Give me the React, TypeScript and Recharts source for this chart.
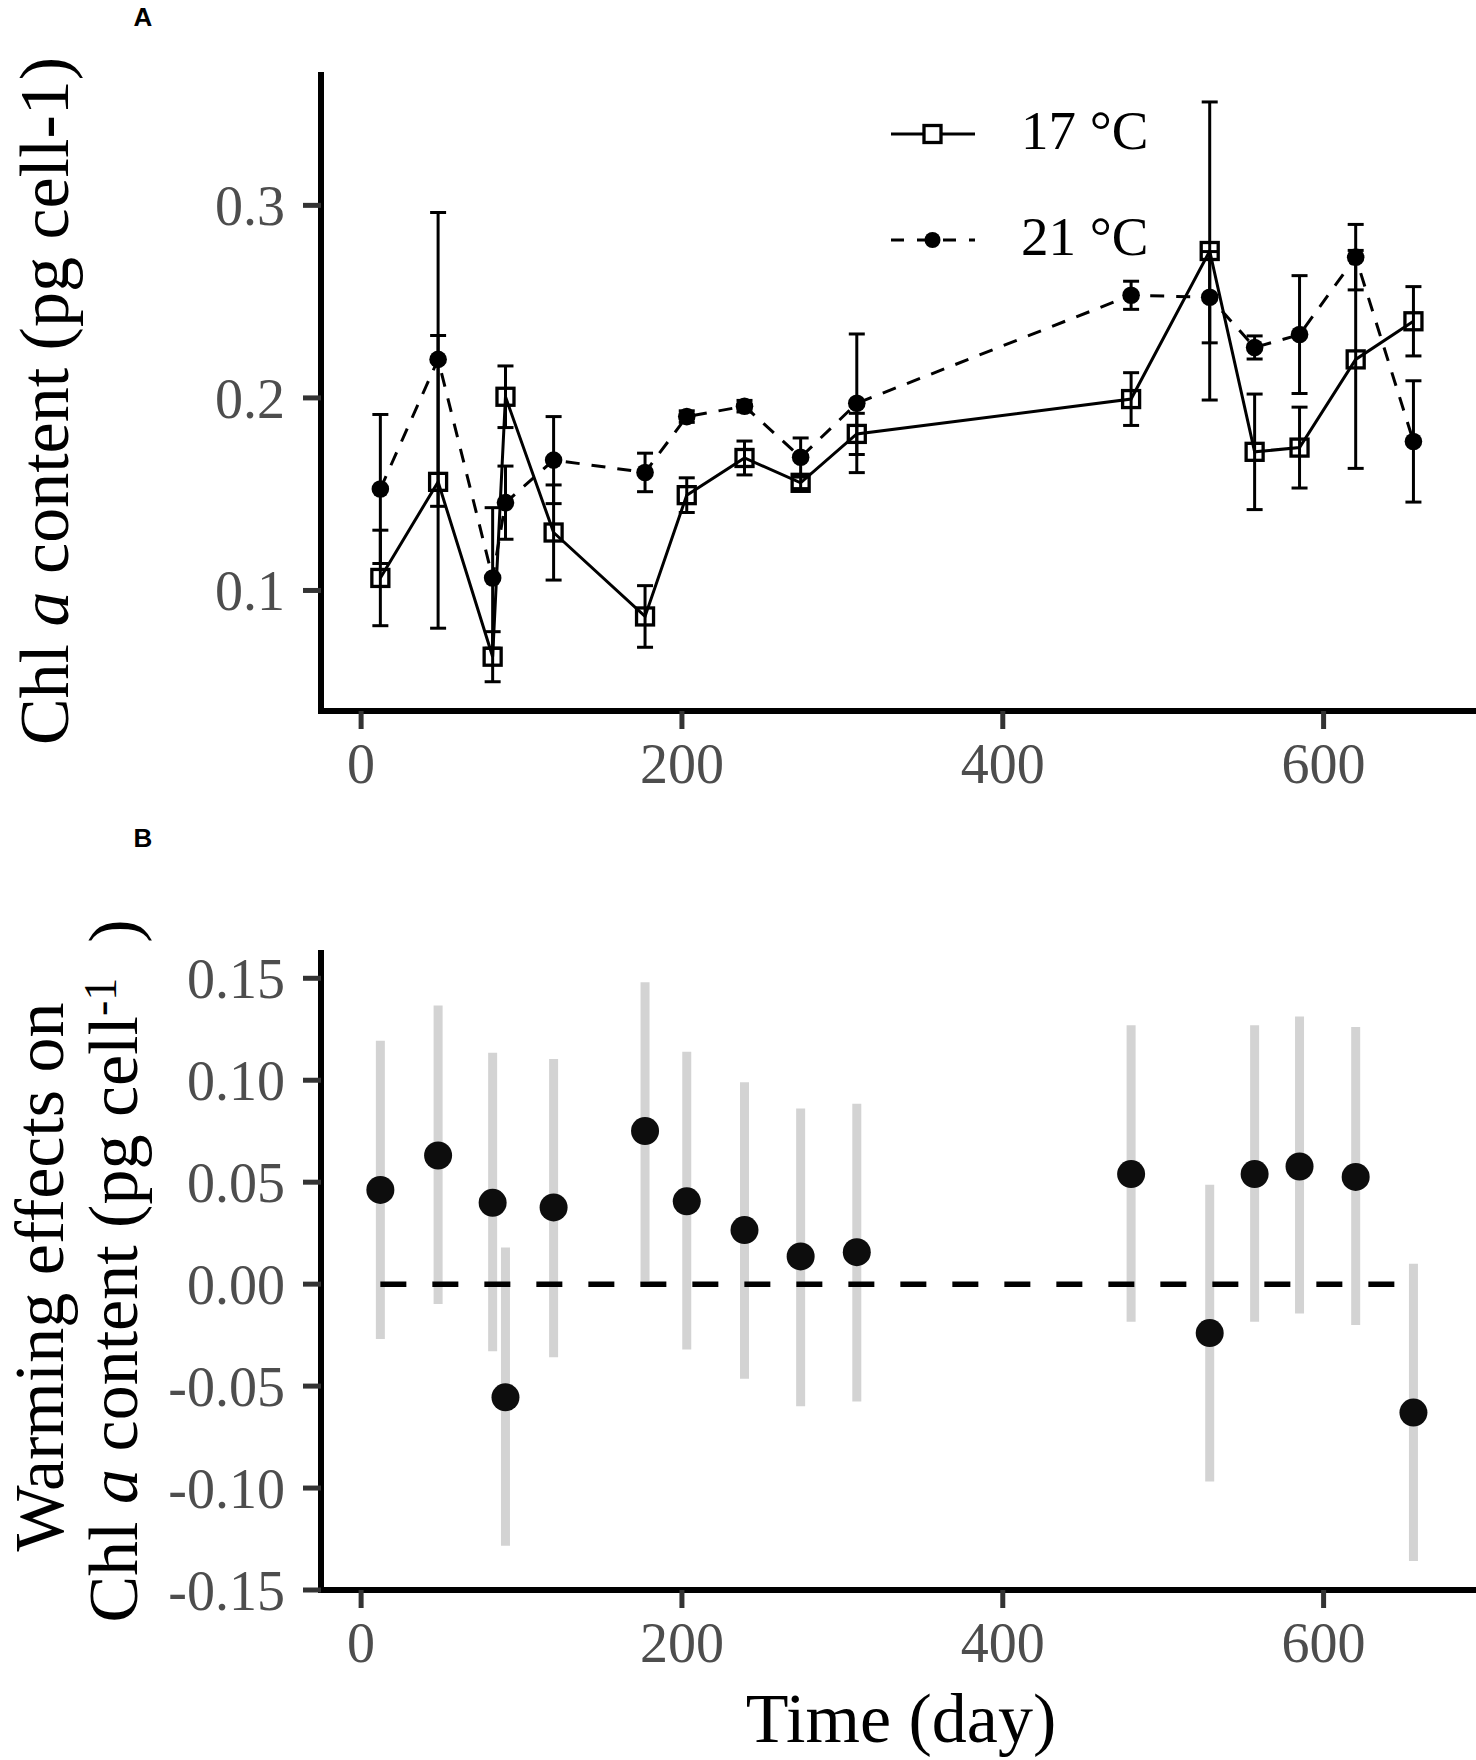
import React from "react";
import { ComposedChart, Line, XAxis, YAxis, ErrorBar, Legend } from "recharts";

// sampling days (same for both panels)
const DAYS = [12, 48, 82, 90, 120, 177, 203, 239, 274, 309, 480, 529, 557, 585, 620, 656];

// panel A: Chl a content, mean and error per temperature
const CHL_17 = [0.1065, 0.1564, 0.0656, 0.2006, 0.1301, 0.0865, 0.1495, 0.1688, 0.1559, 0.1813, 0.1994, 0.2763, 0.172, 0.1742, 0.22, 0.2398];
const ERR_17 = [0.0248, 0.076, 0.013, 0.016, 0.0247, 0.016, 0.009, 0.0088, 0.003, 0.0107, 0.0137, 0.0774, 0.03, 0.021, 0.0566, 0.018];
const CHL_21 = [0.1527, 0.22, 0.1065, 0.1456, 0.1677, 0.1613, 0.1903, 0.1957, 0.1692, 0.1972, 0.2533, 0.2523, 0.2262, 0.2329, 0.2731, 0.1774];
const ERR_21 = [0.0387, 0.0763, 0.0365, 0.019, 0.0226, 0.01, 0.003, 0.003, 0.01, 0.036, 0.0073, 0.0237, 0.006, 0.0306, 0.017, 0.0315];

// panel B: warming effect with lower / upper interval
const EFFECT = [0.0462, 0.0631, 0.0399, -0.0555, 0.0376, 0.0751, 0.0406, 0.0265, 0.0136, 0.0157, 0.054, -0.024, 0.054, 0.0577, 0.0526, -0.063];
const EFFECT_LO = [-0.0269, -0.0098, -0.0329, -0.1283, -0.0359, 0.0016, -0.032, -0.0464, -0.0599, -0.0575, -0.0185, -0.0968, -0.0185, -0.0144, -0.02, -0.1358];
const EFFECT_HI = [0.1194, 0.1366, 0.1135, 0.018, 0.1104, 0.148, 0.114, 0.099, 0.0861, 0.0885, 0.127, 0.0487, 0.127, 0.1312, 0.1261, 0.01];

const X_TICKS = [0, 200, 400, 600];
const Y_TICKS_A = [0.1, 0.2, 0.3];
const Y_TICKS_B = [-0.15, -0.1, -0.05, 0, 0.05, 0.1, 0.15];

const FONT = '"Liberation Serif", "Times New Roman", serif';
const SANS = '"Liberation Sans", Arial, sans-serif';

const rowsA = DAYS.map((day, i) => ({
  day,
  c17: CHL_17[i],
  e17: ERR_17[i],
  c21: CHL_21[i],
  e21: ERR_21[i],
}));

const rowsB = DAYS.map((day, i) => ({
  day,
  effect: EFFECT[i],
  ci: [EFFECT[i] - EFFECT_LO[i], EFFECT_HI[i] - EFFECT[i]],
  zero: 0,
}));

const SERIES_STYLE: Record<string, { dash?: string; marker: "square" | "dot" }> = {
  c17: { marker: "square" },
  c21: { dash: "13 13", marker: "dot" },
};

const tickStyle = { fill: "#4d4d4d", fontSize: 56, fontFamily: FONT };
const axisLineStyle = { stroke: "#000", strokeWidth: 6, strokeLinecap: "square" as const };
const tickLineStyle = { stroke: "#333", strokeWidth: 5 };

function squareDot(p: any) {
  if (p.cx == null || p.cy == null) return <g key={`sq-${p.index}`} />;
  return (
    <rect key={`sq-${p.index}`} x={p.cx - 8.5} y={p.cy - 8.5} width={17} height={17}
      fill="none" stroke="#000" strokeWidth={3.3} />
  );
}

function smallDot(p: any) {
  if (p.cx == null || p.cy == null) return <g key={`dt-${p.index}`} />;
  return <circle key={`dt-${p.index}`} cx={p.cx} cy={p.cy} r={8.8} fill="#000" />;
}

function bigDot(p: any) {
  if (p.cx == null || p.cy == null) return <g key={`bd-${p.index}`} />;
  return <circle key={`bd-${p.index}`} cx={p.cx} cy={p.cy} r={14} fill="#0d0d0d" />;
}

function LegendBox(props: any) {
  const payload = props.payload || [];
  return (
    <svg width={320} height={190}>
      {payload.map((entry: any, i: number) => {
        const s = SERIES_STYLE[entry.dataKey] || { marker: "dot" };
        const y = 49 + i * 106;
        return (
          <g key={String(entry.dataKey)}>
            <line x1={11} x2={95} y1={y} y2={y} stroke="#000" strokeWidth={3} strokeDasharray={s.dash} />
            {s.marker === "square" ? (
              <rect x={44} y={y - 8.5} width={17} height={17} fill="#fff" stroke="#000" strokeWidth={3.3} />
            ) : (
              <circle cx={52.5} cy={y} r={8} fill="#000" />
            )}
            <text x={141} y={y + 15} fontSize={55} fontFamily={FONT} fill="#000">
              {entry.value}
            </text>
          </g>
        );
      })}
    </svg>
  );
}

function TitleA() {
  return (
    <g>
      <text x={143} y={26} textAnchor="middle" fontFamily={SANS} fontWeight="bold" fontSize={26} fill="#000">A</text>
      <text x={68} y={401} transform="rotate(-90 68 401)" textAnchor="middle" fontFamily={FONT} fontSize={70} fill="#000">
        {"Chl "}
        <tspan fontStyle="italic">a</tspan>
        {" content (pg cell-1)"}
      </text>
    </g>
  );
}

function TitleB() {
  return (
    <g>
      <text x={143} y={47} textAnchor="middle" fontFamily={SANS} fontWeight="bold" fontSize={26} fill="#000">B</text>
      <text x={63} y={477} transform="rotate(-90 63 477)" textAnchor="middle" fontFamily={FONT} fontSize={70} fill="#000">
        Warming effects on
      </text>
      <text x={137} y={471} transform="rotate(-90 137 471)" textAnchor="middle" fontFamily={FONT} fontSize={70} fill="#000">
        {"Chl "}
        <tspan fontStyle="italic">a</tspan>
        {" content (pg cell"}
        <tspan dy={-21} fontSize={46}>-1</tspan>
        <tspan dy={21}>{"\u00a0\u00a0)"}</tspan>
      </text>
    </g>
  );
}

function TimeTitle() {
  return (
    <text x={901} y={942} textAnchor="middle" fontFamily={FONT} fontSize={70} fill="#000">
      Time (day)
    </text>
  );
}

export default function App() {
  return (
    <div style={{ position: "absolute", left: 0, top: 0, width: 1476, height: 1760, background: "#fff", fontFamily: FONT }}>
      <ComposedChart width={1476} height={800} data={rowsA} margin={{ top: 75, right: 0, bottom: 0, left: 0 }}>
        <XAxis type="number" dataKey="day" domain={[-25, 695]} allowDataOverflow ticks={X_TICKS} interval={0}
          tick={tickStyle} tickSize={18} tickMargin={14} axisLine={axisLineStyle} tickLine={tickLineStyle} height={89} />
        <YAxis type="number" domain={[0.0374, 0.3677]} allowDataOverflow ticks={Y_TICKS_A} interval={0}
          tickFormatter={(v: number) => v.toFixed(1)} width={321}
          tick={tickStyle} tickSize={18} tickMargin={18} axisLine={axisLineStyle} tickLine={tickLineStyle}
          label={<TitleA />} />
        <Legend verticalAlign="middle" layout="horizontal" content={<LegendBox />}
          wrapperStyle={{ left: 880, top: 85, width: 320, height: 190 }} />
        <Line dataKey="c17" name="17 °C" type="linear" stroke="#000" strokeWidth={3}
          dot={squareDot} activeDot={false} isAnimationActive={false}>
          <ErrorBar dataKey="e17" width={8} strokeWidth={3} stroke="#000" direction="y" />
        </Line>
        <Line dataKey="c21" name="21 °C" type="linear" stroke="#000" strokeWidth={3} strokeDasharray="14 12"
          dot={smallDot} activeDot={false} isAnimationActive={false}>
          <ErrorBar dataKey="e21" width={8} strokeWidth={3} stroke="#000" direction="y" />
        </Line>
      </ComposedChart>

      <ComposedChart width={1476} height={960} data={rowsB} margin={{ top: 153, right: 0, bottom: 0, left: 0 }}>
        <XAxis type="number" dataKey="day" domain={[-25, 695]} allowDataOverflow ticks={X_TICKS} interval={0}
          tick={tickStyle} tickSize={18} tickMargin={14} axisLine={axisLineStyle} tickLine={tickLineStyle} height={170}
          label={<TimeTitle />} />
        <YAxis type="number" domain={[-0.15, 0.1624]} allowDataOverflow ticks={Y_TICKS_B} interval={0}
          tickFormatter={(v: number) => v.toFixed(2)} width={321}
          tick={tickStyle} tickSize={18} tickMargin={18} axisLine={axisLineStyle} tickLine={tickLineStyle}
          label={<TitleB />} />
        <Line dataKey="effect" type="linear" stroke="none" strokeWidth={0}
          dot={bigDot} activeDot={false} isAnimationActive={false}>
          <ErrorBar dataKey="ci" width={0} strokeWidth={9} stroke="#d3d3d3" direction="y" />
        </Line>
        <Line dataKey="zero" type="linear" stroke="#000" strokeWidth={5.5} strokeDasharray="26 26"
          dot={false} activeDot={false} isAnimationActive={false} />
      </ComposedChart>
    </div>
  );
}
